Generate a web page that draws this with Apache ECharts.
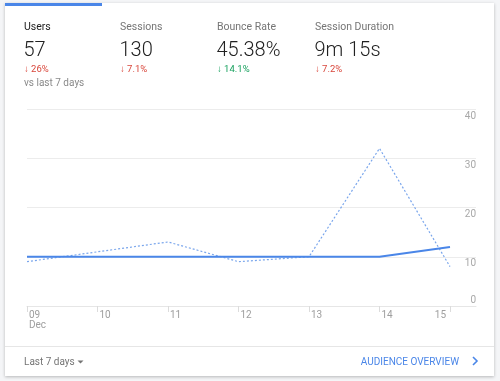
<!DOCTYPE html>
<html><head><meta charset="utf-8">
<script src="https://cdn.jsdelivr.net/npm/echarts@6/dist/echarts.min.js"></script>
<style>html,body{margin:0;padding:0;background:#f4f5f7;}#c{width:500px;height:381px;}</style>
</head><body><div id="c"></div>
<script>
const categories = ['09\nDec', '10', '11', '12', '13', '14', '15'];
const usersCurrent = [10, 10, 10, 10, 10, 10, 12];
const usersPrevious = [9, 11, 13, 9, 10, 32, 8];
const yTicks = [0, 10, 20, 30, 40];
const metricNames = ['Users', 'Sessions', 'Bounce Rate', 'Session Duration'];
const metricValues = ['57', '130', '45.38%', '9m 15s'];
const metricChanges = ['26%', '7.1%', '14.1%', '7.2%'];
const metricGood = [false, false, true, false];
const compareText = 'vs last 7 days';
const rangeText = 'Last 7 days';
const linkText = 'AUDIENCE OVERVIEW';

const FONT = 'Roboto, "Noto Sans", sans-serif';
const metricX = [24, 120, 217, 315];
const graphics = [
  {type:'rect', shape:{x:5, y:3, width:489, height:373}, style:{fill:'#fff', shadowBlur:3, shadowColor:'rgba(0,0,0,0.25)', shadowOffsetY:1}, z:-10},
  {type:'rect', shape:{x:5, y:3, width:97, height:3}, style:{fill:'#4a86e8'}},
  {type:'rect', shape:{x:5, y:346, width:489, height:1}, style:{fill:'#e6e6e6'}},
];
metricNames.forEach((n, i) => {
  graphics.push({type:'text', x:metricX[i], y:27.5, style:{text:n, font:'10.5px ' + FONT, fill: i === 0 ? '#212121' : '#757575', verticalAlign:'middle'}});
  graphics.push({type:'text', x:metricX[i]-0.5, y:51, style:{text:metricValues[i], font:'300 20px ' + FONT, fill:'#212121', verticalAlign:'middle'}});
  graphics.push({type:'text', x:metricX[i], y:70, style:{text:'\u2193 ' + metricChanges[i], font:'9.5px ' + FONT, fill: metricGood[i] ? '#16a05d' : '#d9473c', verticalAlign:'middle'}});
});
graphics.push({type:'text', x:24, y:83, style:{text:compareText, font:'10px ' + FONT, fill:'#8a8a8a', verticalAlign:'middle'}});
graphics.push({type:'text', x:24, y:362.5, style:{text:rangeText, font:'10px ' + FONT, fill:'#757575', verticalAlign:'middle'}});
graphics.push({type:'polygon', shape:{points:[[77.5,360.5],[83.5,360.5],[80.5,363.5]]}, style:{fill:'#757575'}});
graphics.push({type:'text', x:459, y:362.5, style:{text:linkText, font:'10px ' + FONT, fill:'#4a86e8', align:'right', verticalAlign:'middle'}});
graphics.push({type:'polyline', shape:{points:[[473,357],[477,361],[473,365]]}, style:{stroke:'#4a86e8', lineWidth:1.6, fill:null}});

const chart = echarts.init(document.getElementById('c'), null, {renderer:'canvas'});
const xIdx = categories.map((_, i) => i);
chart.setOption({
  animation:false,
  backgroundColor:'#f4f5f7',
  textStyle:{fontFamily:FONT},
  graphic:graphics,
  grid:{left:27, right:24, top:109, bottom:75, containLabel:false},
  xAxis:{
    type:'value', min:0, max:6 * 449 / 423,
    axisLine:{show:true, lineStyle:{color:'#e6e6e6'}},
    splitLine:{show:false},
    axisTick:{show:true, length:6, lineStyle:{color:'#dcdcdc'}, customValues:xIdx},
    axisLabel:{customValues:xIdx, formatter:v => categories[Math.round(v)] || '', align:'left', alignMaxLabel:'right',
      margin:4, padding:[0,4,0,2], color:'#9e9e9e', fontSize:10, lineHeight:10}
  },
  yAxis:{
    type:'value', position:'right', min:0, max:40, interval:10,
    axisLine:{show:false}, axisTick:{show:false},
    splitLine:{lineStyle:{color:'#ececec'}},
    axisLabel:{inside:true, margin:0, color:'#a8a8a8', fontSize:10,
      formatter:v => v === 0 ? '{z|' + v + '}' : '{n|' + v + '}',
      rich:{z:{padding:[0,0,12,0], fontSize:10, color:'#a8a8a8'}, n:{padding:[14,0,0,0], fontSize:10, color:'#a8a8a8'}}}
  },
  series:[
    {type:'line', data:usersPrevious.map((v,i)=>[i,v]), symbol:'none', z:2,
      lineStyle:{color:'#7aa6ec', width:1.2, type:[2,2]}},
    {type:'line', data:usersCurrent.map((v,i)=>[i,v]), symbol:'none', z:3,
      lineStyle:{color:'#4a86e8', width:2}}
  ]
});
</script></body></html>
